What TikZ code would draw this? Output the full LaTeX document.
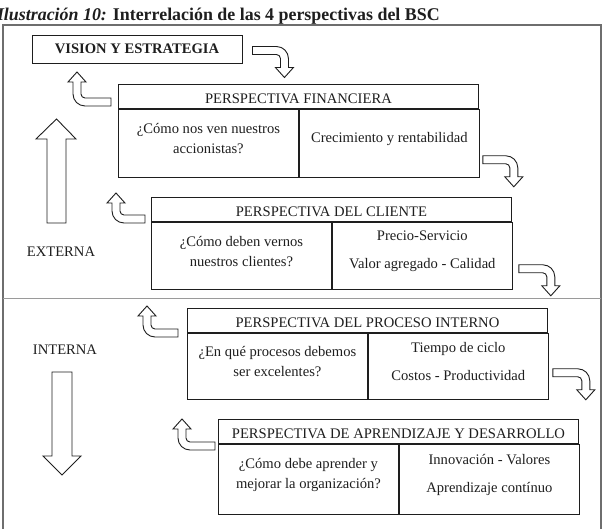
\documentclass[tikz,border=0pt]{standalone}
\usepackage{fontspec}
\setmainfont{Liberation Serif}
\usetikzlibrary{positioning}
\definecolor{ink}{HTML}{1E1E1E}
\definecolor{framegray}{HTML}{6E6E6E}
\definecolor{rulegray}{HTML}{9A9A9A}
\tikzset{
hollow/.style={draw=ink,line width=0.9pt,fill=white},
pics/turndown/.style n args={2}{code={\draw[hollow] (0,-4) -- (#1-8,-4) arc[start angle=-90,end angle=0,radius=12] -- (#1+4,#2-10) -- (#1+9,#2-10) -- (#1,#2) -- (#1-9,#2-10) -- (#1-4,#2-10) -- (#1-4,8) arc[start angle=0,end angle=-90,radius=4] -- (0,4) -- cycle;}},
pics/turnup/.style n args={2}{code={\draw[hollow] (0,4) -- (-#1+8,4) arc[start angle=90,end angle=180,radius=12] -- (-#1-4,-#2+10) -- (-#1-9,-#2+10) -- (-#1,-#2) -- (-#1+9,-#2+10) -- (-#1+4,-#2+10) -- (-#1+4,-8) arc[start angle=180,end angle=90,radius=4] -- (-#1+8,-4) -- (0,-4) -- cycle;}}
}
\begin{document}
\begin{tikzpicture}[x=1pt,y=-1pt,every node/.style={font=\fontsize{14.6}{20}\selectfont,text=ink},hdr/.style={draw=ink,line width=0.9pt,minimum width=360pt,minimum height=24pt,text height=15pt,text depth=0pt,inner sep=0pt,anchor=north west},cell/.style={draw=ink,line width=0.9pt,minimum width=180pt,minimum height=68pt,inner sep=0pt},txt/.style={align=center,inner sep=0pt}]
\useasboundingbox (0,0) rectangle (606,529);
\clip (0,0) rectangle (606,529);
\node[anchor=base west,font=\fontsize{17.9}{20}\selectfont\bfseries] (title) at (-6.5,20.5) {\itshape Ilustración 10:\upshape{} Interrelación de las 4 perspectivas del BSC};
\draw[framegray,line width=1.2pt] (3,540) -- (3,25) -- (601,25) -- (601,540);
\draw[rulegray,line width=0.9pt] (3,298.5) -- (601,298.5);
\node[draw=ink,line width=0.9pt,minimum width=210pt,minimum height=28pt,font=\fontsize{14.6}{20}\selectfont\bfseries] (vis) at (137,49) {VISION Y ESTRATEGIA};
\node[hdr] (finH) at (118,84) {PERSPECTIVA FINANCIERA};
\node[cell,below right=0pt and 0pt of finH.south west] (finL) {};
\node[cell,right=0pt of finL] (finR) {};
\node[txt] (finQ) at ([yshift=4.5pt]finL.center) {¿Cómo nos ven nuestros\\accionistas?};
\node[txt] (finM) at ([yshift=4.5pt]finR.center) {Crecimiento y rentabilidad};
\node[hdr] (cliH) at (151,197) {PERSPECTIVA DEL CLIENTE};
\node[cell,minimum height=67pt,below right=0pt and 0pt of cliH.south west] (cliL) {};
\node[cell,minimum height=67pt,right=0pt of cliL] (cliR) {};
\node[txt] (cliQ) at ([yshift=4.5pt]cliL.center) {¿Cómo deben vernos\\nuestros clientes?};
\node[txt] (cliM) at ([yshift=4.5pt]cliR.center) {Precio-Servicio\\[8pt]Valor agregado - Calidad};
\node[hdr] (proH) at (187,308) {PERSPECTIVA DEL PROCESO INTERNO};
\node[cell,minimum height=66pt,below right=0pt and 0pt of proH.south west] (proL) {};
\node[cell,minimum height=66pt,right=0pt of proL] (proR) {};
\node[txt] (proQ) at ([yshift=4.5pt]proL.center) {¿En qué procesos debemos\\ser excelentes?};
\node[txt] (proM) at ([yshift=4.5pt]proR.center) {Tiempo de ciclo\\[8pt]Costos - Productividad};
\node[hdr] (aprH) at (218,419) {PERSPECTIVA DE APRENDIZAJE Y DESARROLLO};
\node[cell,minimum height=70pt,below right=0pt and 0pt of aprH.south west] (aprL) {};
\node[cell,minimum height=70pt,right=0pt of aprL] (aprR) {};
\node[txt] (aprQ) at ([yshift=4.5pt]aprL.center) {¿Cómo debe aprender y\\mejorar la organización?};
\node[txt] (aprM) at ([yshift=4.5pt]aprR.center) {Innovación - Valores\\[8pt]Aprendizaje contínuo};
\pic at ([shift={(10,1.5)}]vis.east) {turndown={32}{27}};
\pic at ([shift={(3,-18)}]finR.south east) {turndown={31}{27}};
\pic at ([shift={(6,-21)}]cliR.south east) {turndown={32}{27}};
\pic at ([shift={(4,-27)}]proR.south east) {turndown={33}{27}};
\pic at ([shift={(-7,18)}]finH.north west) {turnup={34}{30}};
\pic at ([shift={(-6,22)}]cliH.north west) {turnup={29}{26}};
\pic at ([shift={(-9,25)}]proH.north west) {turnup={31}{27}};
\pic at ([shift={(-3,27)}]aprH.north west) {turnup={33}{27}};
\draw[hollow] (47,223) -- (47,139) -- (36,139) -- (56.5,119) -- (76,139) -- (66,139) -- (66,223) -- cycle;
\draw[hollow] (52,372) -- (52,456) -- (43,456) -- (62,475) -- (81,456) -- (72,456) -- (72,372) -- cycle;
\node (ext) at (61,252) {EXTERNA};
\node (int) at (65,350) {INTERNA};
\end{tikzpicture}
\end{document}
